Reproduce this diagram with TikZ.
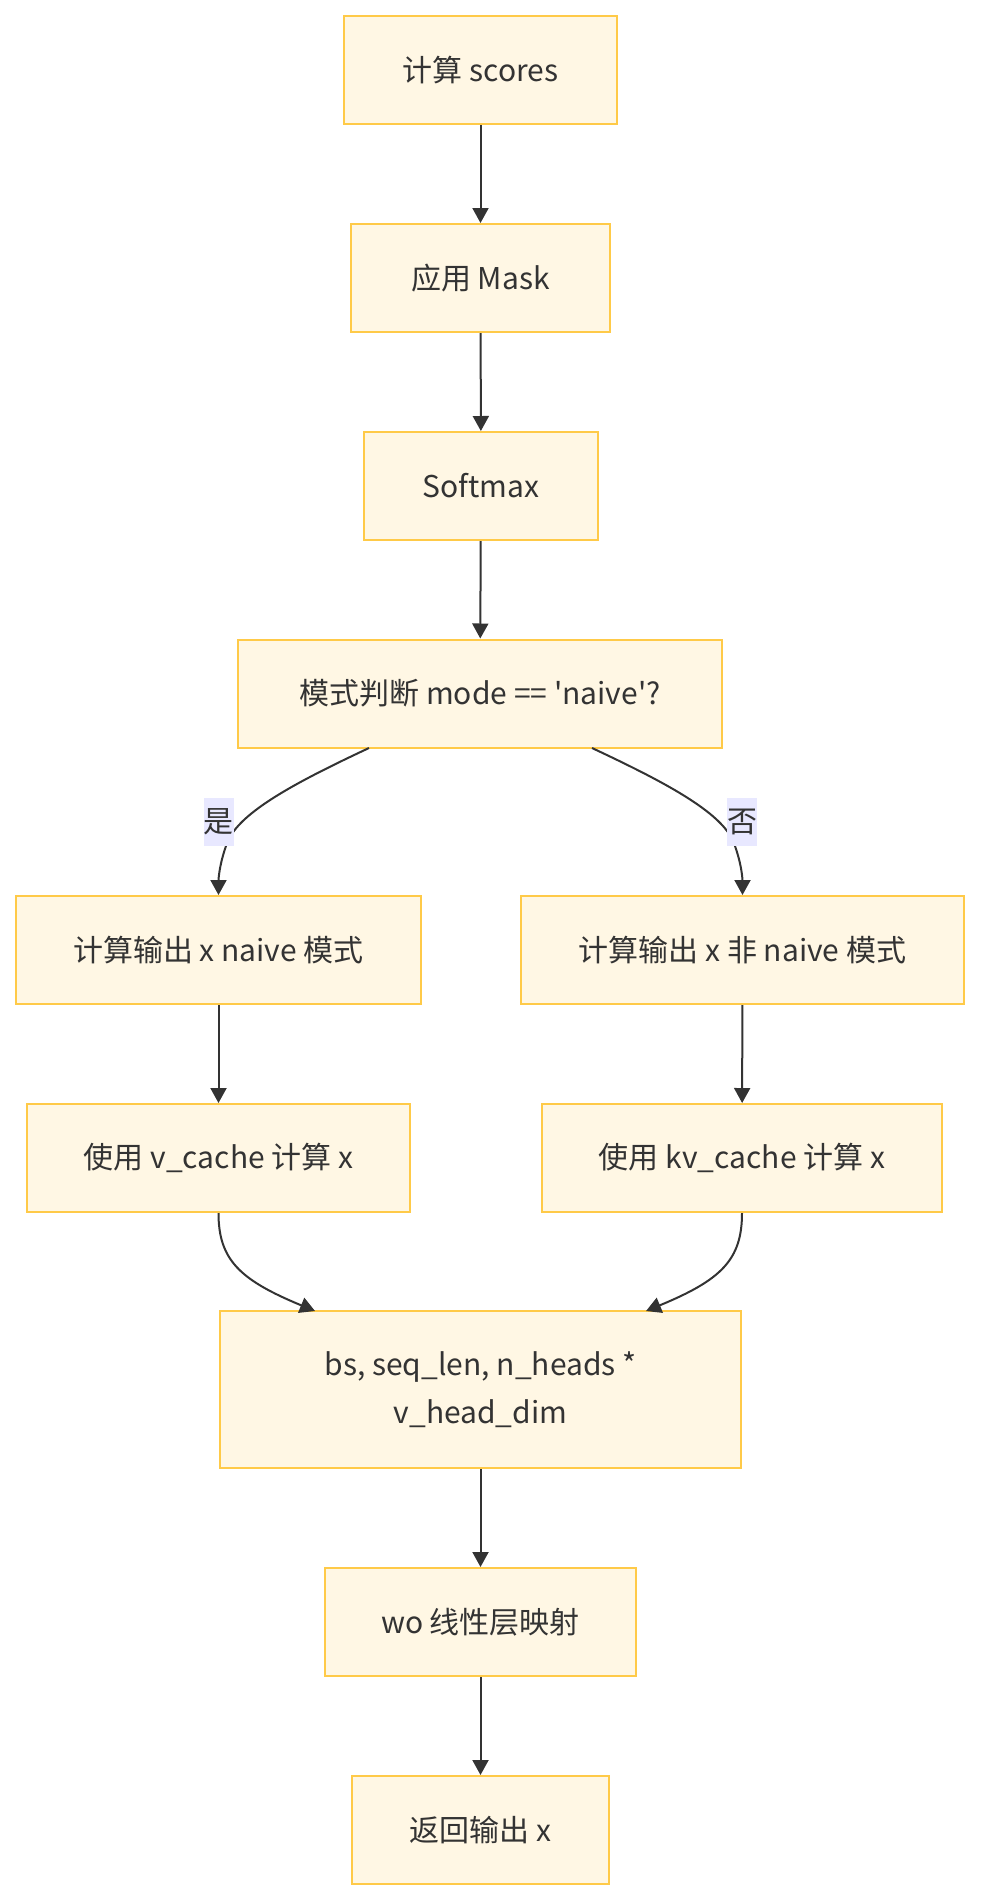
\documentclass[tikz,border=0pt]{standalone}
\usepackage{fontspec}
\setmainfont{Noto Sans CJK SC}
\usetikzlibrary{arrows.meta}
\definecolor{boxfill}{RGB}{255,247,228}
\definecolor{boxline}{RGB}{255,202,72}
\definecolor{edgec}{RGB}{51,51,51}
\definecolor{lblbg}{RGB}{232,232,255}
\begin{document}
\begin{tikzpicture}[x=1pt,y=-1pt,
  box/.style={draw=boxline, fill=boxfill, line width=2pt, inner sep=0pt,
    minimum height=108pt, text=edgec, font=\fontsize{30}{48}\selectfont, align=center},
  edge/.style={draw=edgec, line width=2pt, -{Triangle[length=15pt,width=16pt]}},
  lbl/.style={fill=lblbg, inner sep=0pt, minimum width=29pt, minimum height=48pt,
    text=edgec, font=\fontsize{30}{36}\selectfont}]
\useasboundingbox (0,0) rectangle (980,1900);
\node[box, minimum width=273pt] (n1) at (480.5,70) {计算 scores};
\node[box, minimum width=259pt] (n2) at (480.5,278) {应用 Mask};
\node[box, minimum width=234pt] (n3) at (481,486) {Softmax};
\node[box, minimum width=484pt] (n4) at (480,693.5) {模式判断 mode == \textquotesingle naive\textquotesingle ?};
\node[box, minimum width=405pt] (n5l) at (218.5,950) {计算输出 x naive 模式};
\node[box, minimum width=443pt] (n5r) at (742.5,950) {计算输出 x 非 naive 模式};
\node[box, minimum width=383pt] (n6l) at (218.5,1158) {使用 v\_cache 计算 x};
\node[box, minimum width=400pt] (n6r) at (742,1158) {使用 kv\_cache 计算 x};
\node[box, minimum width=521pt, minimum height=157pt] (n7) at (480.5,1389.5) {bs, seq\_len, n\_heads *\\v\_head\_dim};
\node[box, minimum width=311pt] (n8) at (480.5,1622) {wo 线性层映射};
\node[box, minimum width=257pt] (n9) at (480.5,1830) {返回输出 x};

\draw[edge] (n1) -- (n2);
\draw[edge] (n2) -- (n3);
\draw[edge] (n3) -- (n4);
\coordinate (a1) at (369,748);
\coordinate (a2) at (592,748);
\draw[edge] (a1) .. controls (290,785) and (235,815) .. (226,846) .. controls (219,866) and (218.5,880) .. (n5l.north);
\draw[edge] (a2) .. controls (671,785) and (726,815) .. (735,846) .. controls (742,866) and (742.5,880) .. (n5r.north);
\node[lbl] (ly) at (218.5,822) {是};
\node[lbl] (ln) at (742,822) {否};
\draw[edge] (n5l) -- (n6l);
\draw[edge] (n5r) -- (n6r);
\coordinate (b1) at (315,1311);
\coordinate (b2) at (646,1311);
\draw[edge] (n6l.south) .. controls (218.5,1260) and (240,1280) .. (b1);
\draw[edge] (n6r.south) .. controls (742,1260) and (721,1280) .. (b2);
\draw[edge] (n7) -- (n8);
\draw[edge] (n8) -- (n9);
\end{tikzpicture}
\end{document}
